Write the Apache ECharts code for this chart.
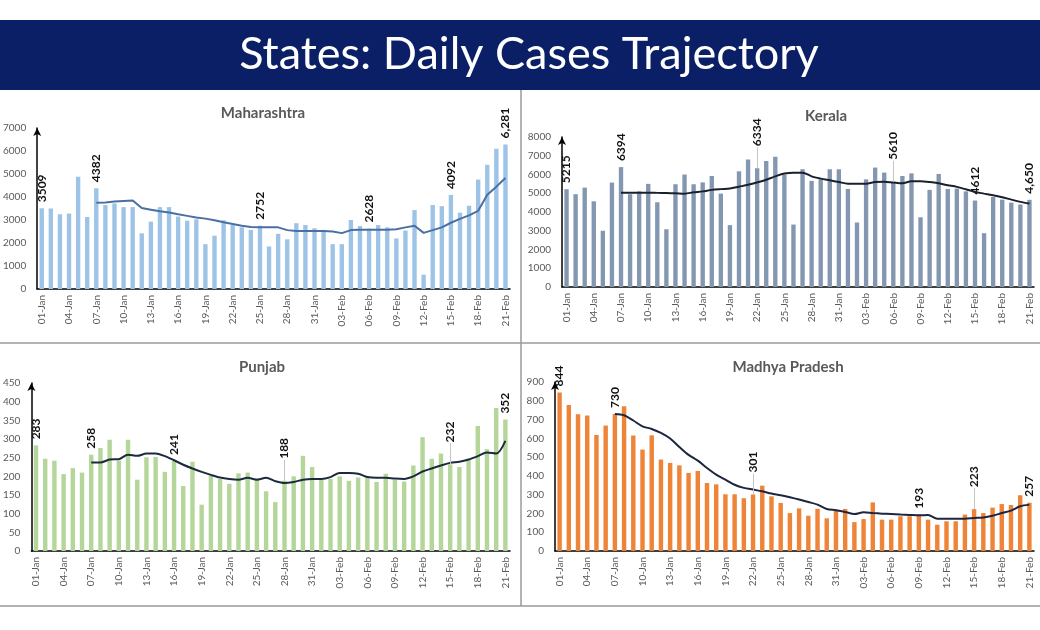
<!DOCTYPE html>
<html>
<head>
  <meta charset="UTF-8">
  <title>States: Daily Cases Trajectory</title>
  <style>
    html, body { margin: 0; padding: 0; background: #fff; overflow: hidden; }
    #main { width: 1040px; height: 630px; }
  </style>
  <script type="text/javascript" src="https://cdn.jsdelivr.net/npm/echarts@6/dist/echarts.min.js"></script>
</head>
<body>
<div id="main"></div>

<script>
  // dates 01-Jan .. 21-Feb
  var days = ['01-Jan','02-Jan','03-Jan','04-Jan','05-Jan','06-Jan','07-Jan','08-Jan','09-Jan','10-Jan',
    '11-Jan','12-Jan','13-Jan','14-Jan','15-Jan','16-Jan','17-Jan','18-Jan','19-Jan','20-Jan',
    '21-Jan','22-Jan','23-Jan','24-Jan','25-Jan','26-Jan','27-Jan','28-Jan','29-Jan','30-Jan','31-Jan',
    '01-Feb','02-Feb','03-Feb','04-Feb','05-Feb','06-Feb','07-Feb','08-Feb','09-Feb','10-Feb',
    '11-Feb','12-Feb','13-Feb','14-Feb','15-Feb','16-Feb','17-Feb','18-Feb','19-Feb','20-Feb','21-Feb'];

  // Maharashtra
  var mhCases = [3509,3500,3250,3280,4880,3130,4382,3650,3720,3560,3560,2420,2930,3560,3560,3150,2970,3030,1950,2320,
    2990,2780,2680,2570,2752,1850,2400,2160,2860,2780,2640,
    2570,1950,1950,3000,2740,2628,2780,2680,2200,2540,3430,620,3650,3600,4092,3320,3620,4760,5400,6100,6281];
  var mhAvg = [null,null,null,null,null,null,3750,3760,3800,3830,3850,3520,3450,3380,3330,3250,3180,3110,3060,2990,
    2900,2830,2750,2700,2680,2680,2680,2560,2520,2520,2520,
    2520,2500,2430,2560,2580,2580,2580,2580,2600,2680,2750,2440,2560,2680,2880,3050,3200,3400,4100,4450,4830];
  var mhLabelIdx = [0,6,24,36,45,51];
  var mhLabelTxt = ['3509','4382','2752','2628','4092','6,281'];

  // Kerala
  var klCases = [5215,4950,5300,4570,3000,5570,6394,4950,5100,5500,4520,3080,5480,6000,5480,5580,5920,4980,3300,6170,
    6800,6334,6720,6950,6000,3330,6280,5660,5740,6280,6280,
    5230,3440,5740,6370,6100,5610,5920,6060,3720,5180,6030,5230,5250,5100,4612,2870,4800,4660,4500,4400,4650];
  var klAvg = [null,null,null,null,null,null,5030,5030,5030,5030,5020,5010,5000,4980,5050,5100,5180,5220,5250,5350,
    5450,5580,5720,5900,6050,6100,6100,5900,5780,5690,5600,
    5510,5510,5510,5600,5620,5570,5530,5640,5640,5600,5530,5430,5340,5210,5070,4980,4890,4790,4660,4540,4450];
  var klLabelIdx = [0,6,21,36,45,51];
  var klLabelTxt = ['5215','6394','6334','5610','4612','4,650'];

  // Punjab
  var pbCases = [283,247,242,206,222,210,258,276,298,242,298,191,251,252,212,241,174,239,124,202,
    193,180,208,210,195,160,131,188,200,255,225,
    191,193,200,188,197,197,185,207,191,186,229,305,247,261,232,225,245,335,273,383,352];
  var pbAvg = [null,null,null,null,null,null,237,237,245,246,258,255,261,261,254,243,231,221,212,204,
    197,193,191,196,191,196,187,182,185,191,193,
    193,198,209,209,207,198,196,196,194,193,200,213,221,229,236,239,245,254,264,261,295];
  var pbLabelIdx = [0,6,15,27,45,51];
  var pbLabelTxt = ['283','258','241','188','232','352'];

  // Madhya Pradesh
  var mpCases = [844,778,728,721,618,668,730,771,615,540,616,487,469,456,416,426,362,355,302,302,
    281,301,348,291,256,202,227,188,225,174,220,
    224,154,170,259,167,167,185,185,193,167,140,158,158,194,223,202,231,250,245,297,257];
  var mpAvg = [null,null,null,null,null,null,730,723,695,664,650,629,599,554,512,481,442,407,380,353,
    336,327,318,306,297,286,274,261,247,224,217,
    208,197,206,202,199,197,194,192,190,192,172,172,172,172,176,179,188,202,215,238,247];
  var mpLabelIdx = [0,6,21,39,45,51];
  var mpLabelTxt = ['844','730','301','193','223','257'];

  var myChart = echarts.init(document.getElementById('main'));

  var FONT = 'Lato';
  var AXIS_GREY = '#595959';
  var LEADER = 22; // px gap between bar top and label when a leader line is drawn

  // panels: grid box + look
  var panels = [
    {name: 'Maharashtra', cases: mhCases, avg: mhAvg, idx: mhLabelIdx, txt: mhLabelTxt,
      grid: {left: 34, right: 530, top: 128, bottom: 341}, max: 7000, step: 1000,
      bar: '#9dc3e6', line: '#4a6fa5', far: [], titleX: 258, titleY: 101},
    {name: 'Kerala', cases: klCases, avg: klAvg, idx: klLabelIdx, txt: klLabelTxt,
      grid: {left: 562, right: 6, top: 137, bottom: 343}, max: 8000, step: 1000,
      bar: '#8497b0', line: '#1a1f2e', far: [21, 36], titleX: 821, titleY: 104},
    {name: 'Punjab', cases: pbCases, avg: pbAvg, idx: pbLabelIdx, txt: pbLabelTxt,
      grid: {left: 31, right: 530, top: 383, bottom: 79}, max: 450, step: 50,
      bar: '#b4d69a', line: '#1c2a3e', far: [27, 45], titleX: 257, titleY: 355},
    {name: 'Madhya Pradesh', cases: mpCases, avg: mpAvg, idx: mpLabelIdx, txt: mpLabelTxt,
      grid: {left: 555, right: 6, top: 382, bottom: 79}, max: 900, step: 100,
      bar: '#ee8438', line: '#1c2541', far: [21, 45], titleX: 783, titleY: 355}
  ];

  var grids = [], xAxes = [], yAxes = [], series = [], titles = [];

  panels.forEach(function (p, i) {
    grids.push(p.grid);
    var plotH = 630 - p.grid.top - p.grid.bottom;
    var perPx = p.max / plotH;

    titles.push({
      text: p.name, left: p.titleX, top: p.titleY, textAlign: 'center',
      textStyle: {fontFamily: FONT, fontSize: 15, fontWeight: 'bold', color: '#595959'}
    });

    xAxes.push({
      type: 'category', gridIndex: i, data: days,
      axisLine: {lineStyle: {color: '#000', width: 1.5}},
      axisTick: {show: false},
      axisLabel: {rotate: 90, interval: 2, fontSize: 10, color: AXIS_GREY, fontFamily: FONT, margin: 6}
    });

    yAxes.push({
      type: 'value', gridIndex: i, min: 0, max: p.max, interval: p.step,
      axisLine: {show: true, symbol: ['none', 'arrow'], symbolSize: [6, 8], lineStyle: {color: '#000', width: 1.5}},
      axisTick: {show: false},
      splitLine: {show: false},
      axisLabel: {fontSize: 10, color: AXIS_GREY, fontFamily: FONT, margin: 11,
        formatter: function (v) { return String(v); }}
    });

    var leaders = [];
    var barData = p.cases.map(function (v, j) {
      var k = p.idx.indexOf(j);
      if (k < 0) return v;
      var item = {value: v, label: {show: true, formatter: p.txt[k]}};
      if (p.far.indexOf(j) >= 0) {
        item.label.distance = LEADER;
        leaders.push([{coord: [j, v]}, {coord: [j, v + (LEADER - 1) * perPx]}]);
      }
      return item;
    });

    series.push({
      type: 'bar', xAxisIndex: i, yAxisIndex: i,
      data: barData, barWidth: '48%',
      itemStyle: {color: p.bar},
      label: {
        show: false, position: 'top', rotate: 90, align: 'left', verticalAlign: 'middle',
        distance: 6, fontFamily: FONT, fontSize: 12, fontWeight: 'bold', color: '#111'
      },
      markLine: {
        silent: true, symbol: ['none', 'none'], label: {show: false},
        lineStyle: {color: '#c4c4c4', width: 1, type: 'solid'},
        animation: false,
        data: leaders
      },
      silent: true
    });

    series.push({
      type: 'line', xAxisIndex: i, yAxisIndex: i,
      data: p.avg, symbol: 'none', smooth: i === 0 ? false : 0.3,
      lineStyle: {color: p.line, width: 2},
      silent: true, z: 3
    });
  });

  var option = {
    animation: false,
    backgroundColor: '#fff',
    title: titles,
    grid: grids,
    xAxis: xAxes,
    yAxis: yAxes,
    series: series,
    graphic: [
      {type: 'rect', left: 0, top: 20, shape: {width: 1040, height: 70}, style: {fill: '#0b1f67'}, z: 0},
      {type: 'text', z: 1,
        style: {x: 529, y: 54, text: 'States: Daily Cases Trajectory', fill: '#fff',
          font: '45px Lato', textAlign: 'center', textVerticalAlign: 'middle'}},
      {type: 'line', shape: {x1: 521, y1: 90, x2: 521, y2: 606}, style: {stroke: '#9a9a9a', lineWidth: 1.5}},
      {type: 'line', shape: {x1: 0, y1: 343, x2: 1040, y2: 343}, style: {stroke: '#9a9a9a', lineWidth: 1.5}},
      {type: 'line', shape: {x1: 0, y1: 606, x2: 1040, y2: 606}, style: {stroke: '#9a9a9a', lineWidth: 1.5}}
    ]
  };

  myChart.setOption(option);
</script>

</body>
</html>
